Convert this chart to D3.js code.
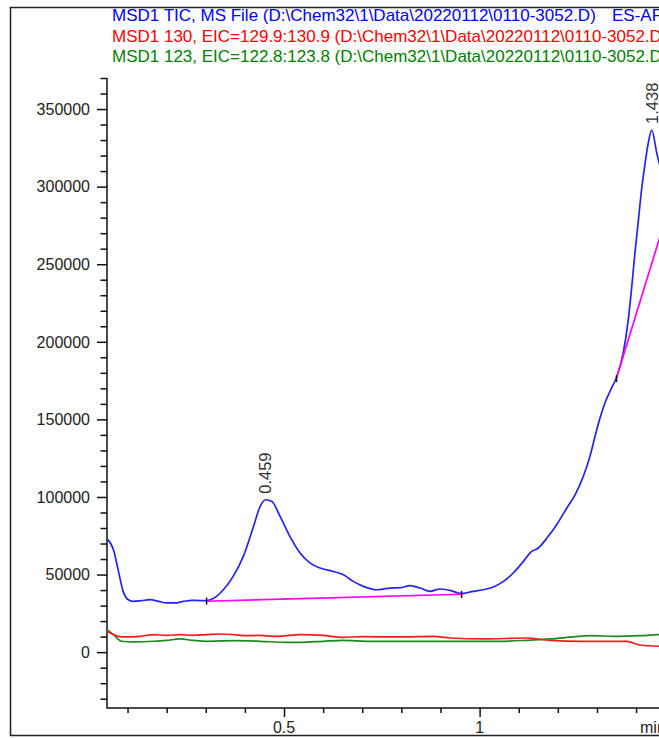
<!DOCTYPE html>
<html>
<head>
  <title>MSD1 TIC</title>
  <script src="https://d3js.org/d3.v7.min.js"></script>
  <style>
    body { margin: 0; background: #fff; }
    text { font-family: "Liberation Sans", Arial, sans-serif; }
  </style>
</head>
<body>
<script type="text/javascript">
//legend lines
var legendText = [
  "MSD1 TIC, MS File (D:\\Chem32\\1\\Data\\20220112\\0110-3052.D)",
  "MSD1 130, EIC=129.9:130.9 (D:\\Chem32\\1\\Data\\20220112\\0110-3052.D)",
  "MSD1 123, EIC=122.8:123.8 (D:\\Chem32\\1\\Data\\20220112\\0110-3052.D)"
];
var legendColor = ["#0000ff", "#ff0000", "#008000"];
var ionMode = "ES-API";

//TIC trace (min, counts)
var ticTime = [0.0475,0.064,0.076,0.089,0.102,0.115,0.136,0.157,0.179,0.200,0.221,0.243,0.264,0.285,0.302,
  0.319,0.345,0.370,0.396,0.422,0.439,0.453,0.469,0.490,0.515,0.541,0.567,0.592,0.626,0.652,0.677,0.703,
  0.737,0.771,0.797,0.822,0.848,0.873,0.899,0.924,0.954,0.980,1.009,1.035,1.061,1.086,1.112,1.133,1.150,
  1.172,1.197,1.223,1.244,1.265,1.282,1.295,1.308,1.321,1.336,1.350,1.367,1.380,1.389,1.397,1.406,1.414,
  1.423,1.431,1.440,1.453,1.470];
var ticValue = [73000,66000,53000,39000,33800,32700,33200,33800,32700,31700,31700,32700,33400,33200,33200,
  34500,40200,48800,61700,81000,93900,98200,97100,87500,74600,63900,57400,54200,52000,49900,45600,42400,
  40200,41300,41500,42800,41300,39200,40700,39800,37700,39000,40200,42000,45600,51000,58500,64900,67100,
  73500,82100,92900,101400,113200,126100,139000,151000,161000,169500,177000,192700,214100,235600,257100,278500,297900,
  315000,327900,336500,321500,305000];

//EIC 130 trace
var eic130Time = [0.0475,0.064,0.076,0.097,0.132,0.166,0.200,0.234,0.268,0.302,0.336,0.370,0.404,0.439,0.473,
  0.507,0.541,0.600,0.650,0.700,0.797,0.882,0.924,1.009,1.120,1.180,1.265,1.376,1.410,1.459];
var eic130Value = [13400,11300,10200,9800,10200,11300,10800,11300,10800,11300,11700,11300,10600,10800,10200,
  10600,11300,10800,9500,10000,9800,10200,9100,8500,9100,7600,7000,7000,4600,3800];

//EIC 123 trace
var eic123Time = [0.0475,0.064,0.085,0.115,0.166,0.200,0.234,0.268,0.302,0.370,0.439,0.507,0.541,0.600,0.650,
  0.720,0.797,0.882,0.967,1.052,1.120,1.180,1.240,1.282,1.350,1.410,1.459];
var eic123Value = [14500,11300,7000,6600,7000,7600,8500,7600,7000,7400,7000,6300,6300,7000,7600,
  7000,7000,7000,7000,7000,7600,8500,9800,10600,10200,10600,11300];

//integration baselines [t0, v0, t1, v1]
var baselines = [[0.302, 32800, 0.954, 37300], [1.350, 176600, 1.470, 275000]];
var baseMarks = [[0.302, 33200], [0.954, 37500], [1.350, 176600]];

//peak labels
var peakTime = [0.453, 1.440];
var peakValue = [98200, 336500];
var peakLabel = ["0.459", "1.438"];

//axis ticks
var yMajor = [0, 50000, 100000, 150000, 200000, 250000, 300000, 350000];
var xMajor = [0.5, 1];
var xTickLabels = ["0.5", "1"];

var W = 659, H = 738;
var plotLeft = 107, plotRight = 659, plotTop = 78, plotBottom = 708;

var x = d3.scaleLinear().domain([0.0475, 1.4586]).range([plotLeft, plotRight]);
var y = d3.scaleLinear().domain([-36000, 370000]).range([plotBottom, plotTop]);

var svg = d3.select("body")
            .append("svg")
            .attr("width", W)
            .attr("height", H);

svg.append("rect").attr("width", W).attr("height", H).attr("fill", "#fff");

//outer frame
svg.append("path")
   .attr("d", "M" + W + ",7.5H10.5V735.5H" + W)
   .attr("fill", "none")
   .attr("stroke", "#222")
   .attr("stroke-width", 1.5);

//legend
svg.selectAll(".legend")
   .data(legendText)
   .enter()
   .append("text")
   .attr("class", "legend")
   .attr("x", 112)
   .attr("y", function(d, i){ return 21 + i * 20.5; })
   .attr("font-size", "17px")
   .attr("fill", function(d, i){ return legendColor[i]; })
   .text(function(d){ return d; });
svg.append("text")
   .attr("x", 612).attr("y", 21)
   .attr("font-size", "17px")
   .attr("fill", legendColor[0])
   .text(ionMode);

svg.append("clipPath").attr("id", "plot")
   .append("rect")
   .attr("x", plotLeft).attr("y", plotTop)
   .attr("width", plotRight - plotLeft).attr("height", plotBottom - plotTop);

//y axis
var yAxis = d3.axisLeft(y)
              .tickValues(d3.range(-30000, 370001, 10000))
              .tickSize(0)
              .tickFormat("");
var gy = svg.append("g").attr("transform", "translate(" + plotLeft + ",0)").call(yAxis);
gy.select(".domain").remove();
gy.selectAll(".tick line")
  .attr("x2", function(d){ return d % 50000 === 0 ? -10 : -6.5; })
  .attr("stroke", "#111")
  .attr("stroke-width", 1.5);
svg.selectAll(".ylab")
   .data(yMajor)
   .enter()
   .append("text")
   .attr("x", 90)
   .attr("y", function(d){ return y(d); })
   .attr("dy", "0.36em")
   .attr("text-anchor", "end")
   .attr("font-size", "16px")
   .attr("fill", "#222")
   .text(function(d){ return d; });

//x axis
var xAxis = d3.axisBottom(x)
              .tickValues(d3.range(0.1, 1.45, 0.1))
              .tickSize(0)
              .tickFormat("");
var gx = svg.append("g").attr("transform", "translate(0," + plotBottom + ")").call(xAxis);
gx.select(".domain").remove();
gx.selectAll(".tick line")
  .attr("y2", function(d){ return Math.abs(d * 2 - Math.round(d * 2)) < 1e-6 ? 9 : 5; })
  .attr("stroke", "#111")
  .attr("stroke-width", 1.5);
svg.selectAll(".xlab")
   .data(xMajor)
   .enter()
   .append("text")
   .attr("x", function(d){ return x(d); })
   .attr("y", 733)
   .attr("text-anchor", "middle")
   .attr("font-size", "16px")
   .attr("fill", "#222")
   .text(function(d, i){ return xTickLabels[i]; });
svg.append("text")
   .attr("x", 640).attr("y", 733)
   .attr("font-size", "16px")
   .attr("fill", "#222")
   .text("min");

//axis lines
svg.append("path")
   .attr("d", "M" + plotLeft + "," + plotTop + "V" + plotBottom + "H" + plotRight)
   .attr("fill", "none")
   .attr("stroke", "#111")
   .attr("stroke-width", 1.5);

var plot = svg.append("g").attr("clip-path", "url(#plot)");
var line = d3.line()
             .x(function(d){ return x(d[0]); })
             .y(function(d){ return y(d[1]); })
             .curve(d3.curveMonotoneX);

function pairs(t, v){ return t.map(function(d, i){ return [d, v[i]]; }); }

plot.append("path")
    .datum(pairs(eic123Time, eic123Value))
    .attr("d", line)
    .attr("fill", "none")
    .attr("stroke", "#1e8a1e")
    .attr("stroke-width", 1.7);
plot.append("path")
    .datum(pairs(eic130Time, eic130Value))
    .attr("d", line)
    .attr("fill", "none")
    .attr("stroke", "#ff1a1a")
    .attr("stroke-width", 1.7);
plot.append("path")
    .datum(pairs(ticTime, ticValue))
    .attr("d", line)
    .attr("fill", "none")
    .attr("stroke", "#2424f0")
    .attr("stroke-width", 1.7);

//baselines
plot.selectAll(".base")
    .data(baselines)
    .enter()
    .append("line")
    .attr("x1", function(d){ return x(d[0]); })
    .attr("y1", function(d){ return y(d[1]); })
    .attr("x2", function(d){ return x(d[2]); })
    .attr("y2", function(d){ return y(d[3]); })
    .attr("stroke", "#ff00ff")
    .attr("stroke-width", 1.7);
plot.selectAll(".mark")
    .data(baseMarks)
    .enter()
    .append("line")
    .attr("x1", function(d){ return x(d[0]); })
    .attr("x2", function(d){ return x(d[0]); })
    .attr("y1", function(d){ return y(d[1]) - 3; })
    .attr("y2", function(d){ return y(d[1]) + 4; })
    .attr("stroke", "#111")
    .attr("stroke-width", 1.5);

//peak labels
svg.selectAll(".peak")
   .data(peakLabel)
   .enter()
   .append("text")
   .attr("transform", function(d, i){
     return "translate(" + x(peakTime[i]) + "," + (y(peakValue[i]) - 6) + ") rotate(-90)";
   })
   .attr("dy", "0.35em")
   .attr("font-size", "16.5px")
   .attr("fill", "#333")
   .text(function(d){ return d; });
</script>
</body>
</html>
